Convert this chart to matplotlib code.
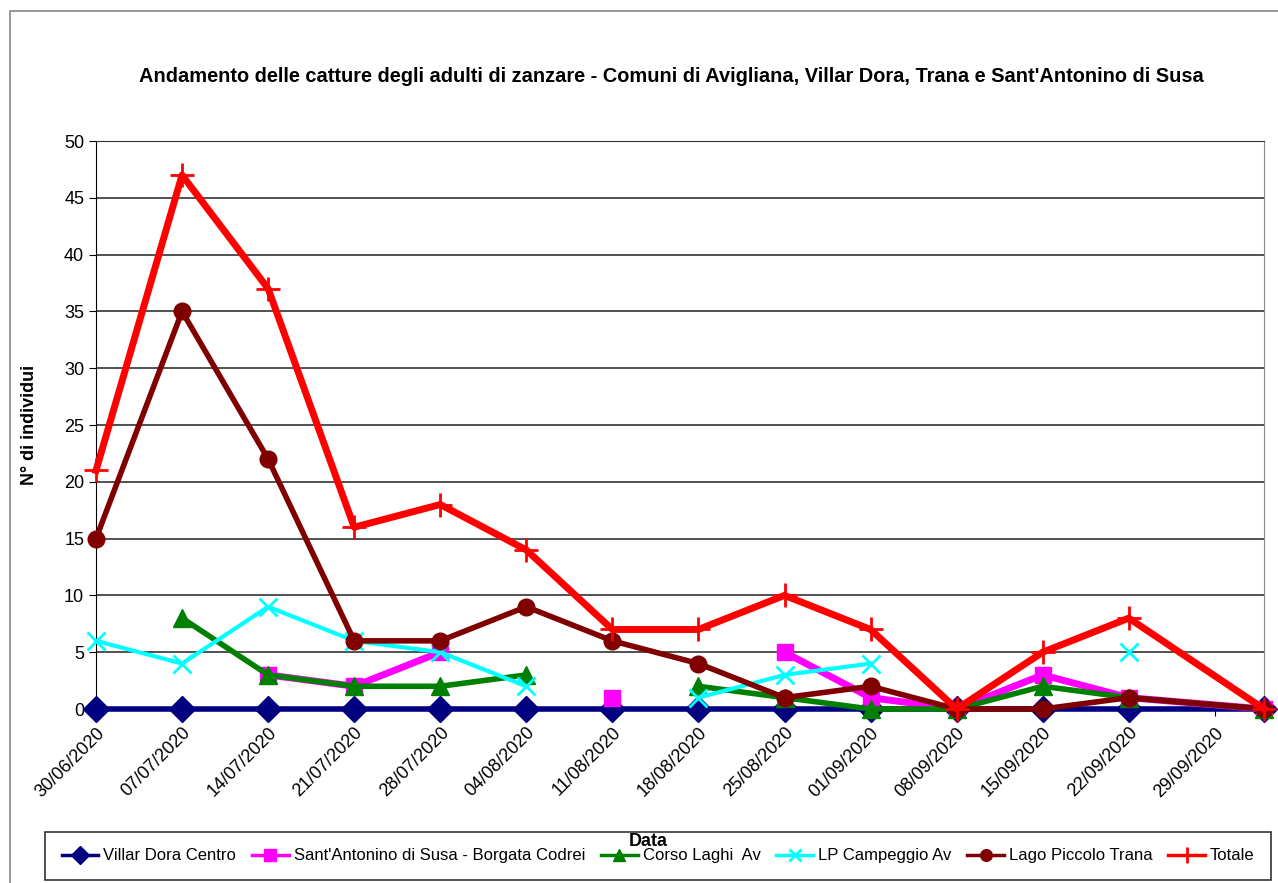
import matplotlib
matplotlib.use("Agg")
import matplotlib.pyplot as plt
import matplotlib.dates as mdates
from matplotlib.patches import Rectangle
import numpy as np
from datetime import datetime, timedelta

plt.rcParams['font.family'] = ['Liberation Sans', 'DejaVu Sans']

dates = ['30/06/2020', '07/07/2020', '14/07/2020', '21/07/2020', '28/07/2020',
         '04/08/2020', '11/08/2020', '18/08/2020', '25/08/2020', '01/09/2020',
         '08/09/2020', '15/09/2020', '22/09/2020', '03/10/2020']
nan = np.nan
villar = [0, 0, 0, 0, 0, 0, 0, 0, 0, 0, 0, 0, 0, 0]
santantonino = [nan, nan, 3, 2, 5, nan, 1, nan, 5, 1, 0, 3, 1, 0]
corso_laghi = [nan, 8, 3, 2, 2, 3, nan, 2, 1, 0, 0, 2, 1, 0]
lp_campeggio = [6, 4, 9, 6, 5, 2, nan, 1, 3, 4, nan, nan, 5, nan]
lago_piccolo = [15, 35, 22, 6, 6, 9, 6, 4, 1, 2, 0, 0, 1, 0]
totale = [21, 47, 37, 16, 18, 14, 7, 7, 10, 7, 0, 5, 8, 0]

x = [datetime.strptime(d, '%d/%m/%Y') for d in dates]

fig = plt.figure(figsize=(12.78, 8.83), dpi=100)
ax = fig.add_axes([96/1278, 1-709/883, (1264-96)/1278, (709-141)/883])

ax.plot(x, villar, color='#000080', lw=4, marker='D', ms=13, label='Villar Dora Centro', zorder=3, clip_on=False)
ax.plot(x, santantonino, color='#ff00ff', lw=5, marker='s', ms=12, label="Sant'Antonino di Susa - Borgata Codrei", zorder=4, clip_on=False)
ax.plot(x, corso_laghi, color='#008000', lw=4, marker='^', ms=13, label='Corso Laghi  Av', zorder=5, clip_on=False)
ax.plot(x, lp_campeggio, color='#00ffff', lw=3, marker='x', ms=13, mew=2, label='LP Campeggio Av', zorder=6, clip_on=False)
ax.plot(x, lago_piccolo, color='#800000', lw=4, marker='o', ms=12, label='Lago Piccolo Trana', zorder=7, clip_on=False)
ax.plot(x, totale, color='#ff0000', lw=5, marker='+', ms=17, mew=2, label='Totale', zorder=8, clip_on=False)

ax.set_ylim(0, 50)
ax.set_yticks(range(0, 51, 5))
ax.set_xlim(x[0], x[-1])
ticks = [x[0] + timedelta(days=7*i) for i in range(14)]
ax.set_xticks(ticks)
ax.xaxis.set_major_formatter(mdates.DateFormatter('%d/%m/%Y'))
plt.setp(ax.get_xticklabels(), rotation=45, ha='right', rotation_mode='anchor')
ax.tick_params(axis='both', labelsize=13, length=5, color='black')
ax.tick_params(axis='x', pad=6)
ax.grid(axis='y', color='#333333', lw=1.2)
ax.set_axisbelow(True)
ax.spines['top'].set_color('#333333')
ax.spines['right'].set_color('#888888')
ax.spines['left'].set_color('black')
ax.spines['bottom'].set_color('black')

ax.set_ylabel('N° di individui', fontsize=13, fontweight='bold')
ax.yaxis.set_label_coords(-(96-38)/1168, 0.5)
fig.text(648/1278, 1-842/883, 'Data', fontsize=13, fontweight='bold', ha='center', va='center', zorder=10)
fig.text(671/1278, 1-77/883,
         "Andamento delle catture degli adulti di zanzare - Comuni di Avigliana, Villar Dora, Trana e Sant'Antonino di Susa",
         fontsize=14.4, fontweight='bold', ha='center', va='center')

# outer chart frame
fig.patches.append(Rectangle((10/1278, -0.1), 1.2, 1-11/883+0.1, transform=fig.transFigure,
                             fill=False, edgecolor='#888888', lw=1.2))

leg = fig.legend(loc='lower left', bbox_to_anchor=(45/1278, 3/883),
                 ncol=6, fontsize=12, frameon=True, fancybox=False, edgecolor='black',
                 handlelength=2.2, handletextpad=0.3, columnspacing=0.95, borderaxespad=0,
                 borderpad=1.0, markerscale=0.7)
leg.get_frame().set_linewidth(1.2)
for line in leg.get_lines():
    line.set_linewidth(2.5)

fig.savefig('out.png', dpi=100)
